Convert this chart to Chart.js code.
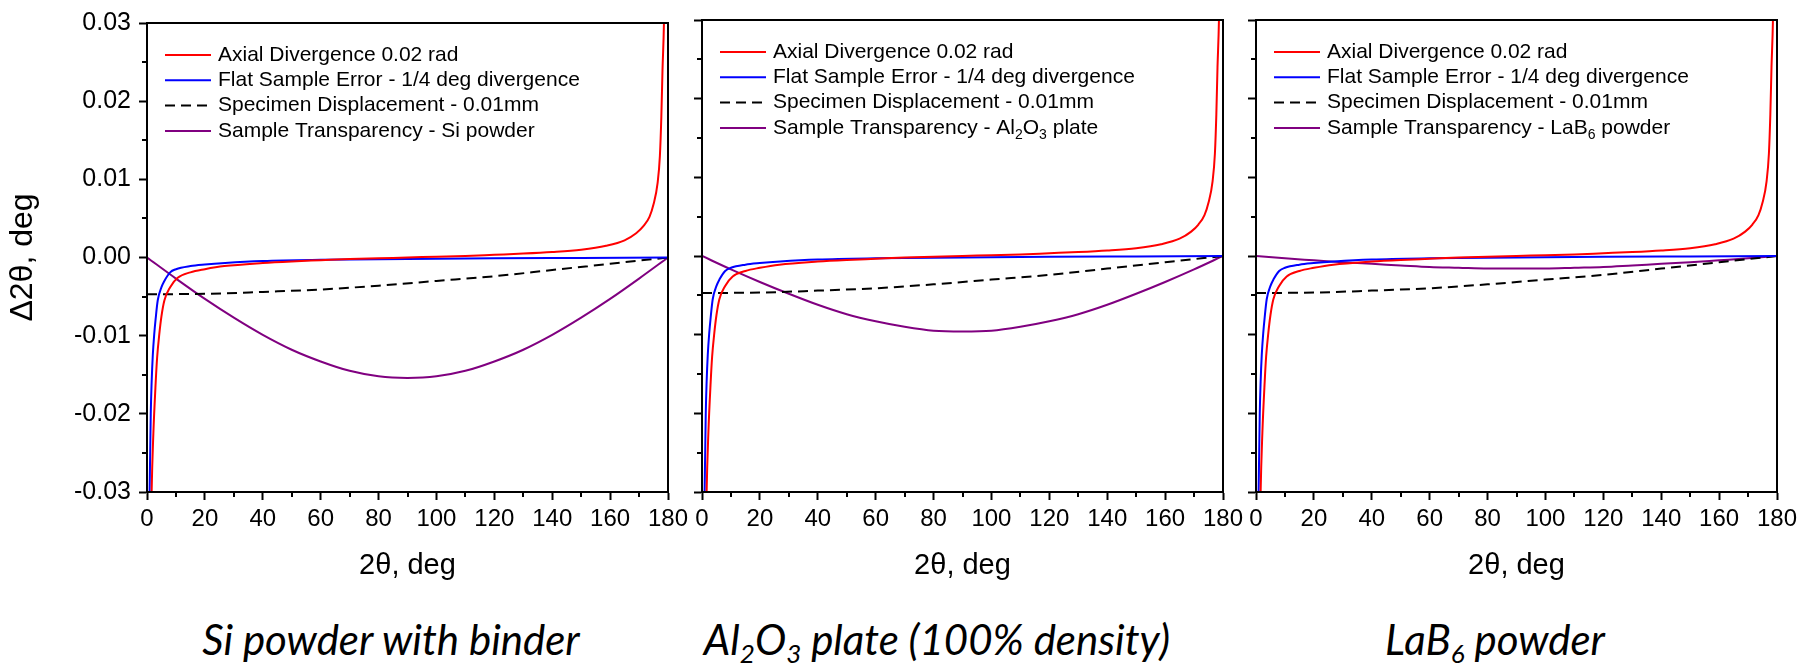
<!DOCTYPE html>
<html>
<head>
<meta charset="utf-8">
<script src="https://cdn.jsdelivr.net/npm/chart.js@4.4.0/dist/chart.umd.min.js"></script>
<style>
  html, body { margin: 0; padding: 0; background: #fff; }
  #wrap { position: relative; width: 1811px; height: 668px; overflow: hidden; }
  canvas { position: absolute; top: 0; }
  .caption {
    position: absolute; top: 618px; transform: translateX(-50%);
    font-family: Lato, "Open Sans", sans-serif; font-style: italic; font-size: 42px;
    white-space: nowrap; color: #000; line-height: 1;
  }
  .caption sub { font-size: 0.62em; vertical-align: -0.3em; line-height: 0; }
</style>
</head>
<body>
<div id="wrap">
  <canvas id="c1" width="698" height="600" style="left:0px"></canvas>
  <canvas id="c2" width="571" height="600" style="left:682px"></canvas>
  <canvas id="c3" width="575" height="600" style="left:1236px"></canvas>
  <div class="caption" style="left:391px">Si powder with binder</div>
  <div class="caption" style="left:937px">Al<sub>2</sub>O<sub>3</sub> plate (100% density)</div>
  <div class="caption" style="left:1495px">LaB<sub>6</sub> powder</div>
</div>
<script>
// values (2theta in deg, shift in deg)
const axialX = [1.3, 1.6, 2.2, 3, 3.5, 4.25, 5, 6, 8, 10.6, 15, 20, 26.7, 40, 50, 60, 70, 80, 90, 100,
  110, 120, 130, 140, 150, 158.6, 165, 169, 171.5, 173.6, 175, 176.4, 177.2, 177.7, 178.1, 178.6, 178.9];
const axialY = [-0.038, -0.030, -0.0225, -0.016, -0.0128, -0.0098, -0.0075, -0.0055, -0.0038, -0.0026,
  -0.0019, -0.0015, -0.0011, -0.0007, -0.0005, -0.00035, -0.0002, -0.0001, 0, 0.0001,
  0.0002, 0.00035, 0.0005, 0.0007, 0.001, 0.0015, 0.0022, 0.0031, 0.004, 0.0052,
  0.0068, 0.0095, 0.013, 0.018, 0.024, 0.030, 0.038];

const flatX = [0.7, 0.9, 1.1, 1.3, 1.6, 2, 2.5, 3, 3.7, 5, 6, 8, 10, 15, 20, 27, 40, 60, 90, 120, 150, 180];
const flatY = [-0.038, -0.030, -0.025, -0.020, -0.016, -0.0125, -0.0098, -0.0078, -0.0055, -0.0038, -0.003,
  -0.0019, -0.0015, -0.0011, -0.0009, -0.0007, -0.00045, -0.0003, -0.0002, -0.0001, -0.00005, 0];

const dispX = [0, 20, 40, 60, 80, 100, 120, 140, 160, 180];
const dispY = [-0.0047, -0.00465, -0.0044, -0.0041, -0.0036, -0.003, -0.0024, -0.0016, -0.0008, 0];

const transpX = [0, 10, 20, 30, 40, 50, 60, 70, 80, 90, 100, 110, 120, 130, 140, 150, 160, 170, 180];
const transpSi = [0, -0.0027, -0.0053, -0.0077, -0.0099, -0.0118, -0.0133, -0.0145, -0.0152, -0.0154,
  -0.0152, -0.0145, -0.0133, -0.0118, -0.0099, -0.0077, -0.0053, -0.0027, 0];
const transpAl2O3 = [0, -0.0017, -0.0033, -0.0048, -0.0062, -0.0074, -0.0083, -0.009, -0.0095, -0.0096,
  -0.0095, -0.009, -0.0083, -0.0074, -0.0062, -0.0048, -0.0033, -0.0017, 0];
const transpLaB6 = [0, -0.0003, -0.00055, -0.0008, -0.001, -0.0012, -0.0014, -0.0015, -0.0016, -0.0016,
  -0.0016, -0.0015, -0.0014, -0.0012, -0.001, -0.0008, -0.00055, -0.0003, 0];

const seriesNames = ['Axial Divergence 0.02 rad', 'Flat Sample Error - 1/4 deg divergence', 'Specimen Displacement - 0.01mm'];
const transpNames = ['Sample Transparency - Si powder', 'Sample Transparency - Al_2O_3 plate', 'Sample Transparency - LaB_6 powder'];

const xMinorTicks = [10, 30, 50, 70, 90, 110, 130, 150, 170];
const yMinorTicks = [-0.025, -0.015, -0.005, 0.005, 0.015, 0.025];

const FONT = '"Liberation Sans", Arial, sans-serif';
const toPoints = (xs, ys) => xs.map((x, i) => ({x: x, y: ys[i]}));

// draws text, "_3" means subscript 3
const drawRich = (ctx, text, x, y) => {
  text.split(/(_\d)/).forEach((part) => {
    if (!part) return;
    if (part[0] === '_') {
      ctx.font = '14px ' + FONT;
      ctx.fillText(part[1], x, y + 7);
      x += ctx.measureText(part[1]).width;
    } else {
      ctx.font = '21px ' + FONT;
      ctx.fillText(part, x, y);
      x += ctx.measureText(part).width;
    }
  });
};

const framePlugin = {
  id: 'frame',
  beforeDraw(chart) {
    const {ctx, chartArea: a} = chart;
    ctx.save();
    ctx.fillStyle = '#fff';
    ctx.fillRect(a.left, a.top, a.right - a.left, a.bottom - a.top);
    ctx.restore();
  },
  afterDraw(chart) {
    const {ctx, chartArea: a, scales} = chart;
    ctx.save();
    ctx.strokeStyle = '#000';
    ctx.lineWidth = 2;
    ctx.strokeRect(a.left, a.top, a.right - a.left, a.bottom - a.top);
    // minor ticks
    ctx.beginPath();
    xMinorTicks.forEach((v) => {
      const px = Math.round(scales.x.getPixelForValue(v));
      ctx.moveTo(px, a.bottom);
      ctx.lineTo(px, a.bottom + 5);
    });
    yMinorTicks.forEach((v) => {
      const py = Math.round(scales.y.getPixelForValue(v));
      ctx.moveTo(a.left, py);
      ctx.lineTo(a.left - 5, py);
    });
    ctx.stroke();
    ctx.restore();
  }
};

const legendPlugin = {
  id: 'boxLegend',
  afterDraw(chart) {
    const {ctx, chartArea: a} = chart;
    ctx.save();
    ctx.textBaseline = 'middle';
    ctx.fillStyle = '#000';
    chart.data.datasets.forEach((ds, i) => {
      const y = a.top + 32 + i * 25.3;
      const x0 = a.left + 18;
      ctx.strokeStyle = ds.borderColor;
      ctx.lineWidth = 2;
      ctx.setLineDash(ds.borderDash || []);
      ctx.beginPath();
      ctx.moveTo(x0, y);
      ctx.lineTo(x0 + 46, y);
      ctx.stroke();
      ctx.setLineDash([]);
      drawRich(ctx, ds.label, x0 + 53, y);
    });
    ctx.restore();
  }
};

const makeChart = (id, transpY, transpName, first) => {
  return new Chart(id, {
    type: 'line',
    data: {
      datasets: [
        {label: seriesNames[0], data: toPoints(axialX, axialY), borderColor: '#ff0000'},
        {label: seriesNames[1], data: toPoints(flatX, flatY), borderColor: '#0000ff'},
        {label: seriesNames[2], data: toPoints(dispX, dispY), borderColor: '#000000', borderDash: [10, 6]},
        {label: transpName, data: toPoints(transpX, transpY), borderColor: '#800080'}
      ]
    },
    options: {
      responsive: false,
      animation: false,
      events: [],
      datasets: {line: {borderWidth: 2, pointRadius: 0, cubicInterpolationMode: 'monotone', fill: false}},
      layout: {padding: {top: 20, bottom: 8, left: 0, right: id === 'c3' ? 34 : 30}},
      plugins: {legend: {display: false}, tooltip: {enabled: false}},
      scales: {
        x: {
          type: 'linear', min: 0, max: 180,
          afterFit: (s) => { s.height = 100; },
          ticks: {stepSize: 20, color: '#000', padding: 5, maxRotation: 0, autoSkip: false,
            font: {family: FONT, size: 24}},
          grid: {drawOnChartArea: false, drawTicks: true, tickLength: 8, tickWidth: 2, tickColor: '#000'},
          border: {display: true, color: '#000', width: 2},
          title: {display: true, text: '2θ, deg', color: '#000', padding: {bottom: 9},
            font: {family: FONT, size: 29}}
        },
        y: {
          type: 'linear', min: -0.03, max: 0.03,
          afterFit: (s) => { s.width = first ? 147 : 20; },
          ticks: {stepSize: 0.01, color: '#000', padding: 8, display: first,
            font: {family: FONT, size: 25},
            callback: (v) => (Math.abs(v) < 1e-9 ? '0.00' : v.toFixed(2))},
          grid: {drawOnChartArea: false, drawTicks: true, tickLength: 8, tickWidth: 2, tickColor: '#000'},
          border: {display: true, color: '#000', width: 2},
          title: {display: first, text: 'Δ2θ, deg', color: '#000', padding: {top: 4},
            font: {family: FONT, size: 32}}
        }
      }
    },
    plugins: [framePlugin, legendPlugin]
  });
};

makeChart('c1', transpSi, transpNames[0], true);
makeChart('c2', transpAl2O3, transpNames[1], false);
makeChart('c3', transpLaB6, transpNames[2], false);
</script>
</body>
</html>
